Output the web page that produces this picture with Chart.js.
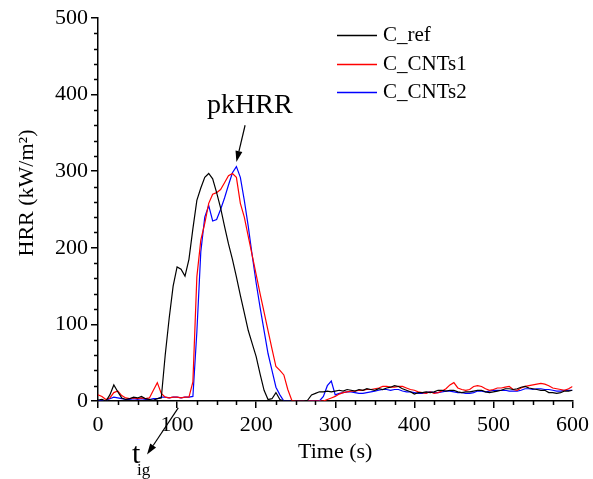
<!DOCTYPE html>
<html lang="en">
<head>
  <meta charset="UTF-8">
  <title>HRR curves</title>
  <script src="https://cdn.jsdelivr.net/npm/chart.js"></script>
  <style>
    html, body { margin: 0; padding: 0; background: #ffffff; }
    #wrap { width: 593px; height: 479px; }
  </style>
</head>
<body>
  <div id="wrap"><canvas id="hrrChart" width="593" height="479"></canvas></div>

  <script>
    // time (s), one sample every 5 s
    const times = [
      0, 5, 10, 15, 20, 25, 30, 35, 40, 45, 50, 55, 60,
      65, 70, 75, 80, 85, 90, 95, 100, 105, 110, 115, 120,
      125, 130, 135, 140, 145, 150, 155, 160, 165, 170, 175, 180,
      185, 190, 195, 200, 205, 210, 215, 220, 225, 230, 235, 240,
      245, 250, 255, 260, 265, 270, 275, 280, 285, 290, 295, 300,
      305, 310, 315, 320, 325, 330, 335, 340, 345, 350, 355, 360,
      365, 370, 375, 380, 385, 390, 395, 400, 405, 410, 415, 420,
      425, 430, 435, 440, 445, 450, 455, 460, 465, 470, 475, 480,
      485, 490, 495, 500, 505, 510, 515, 520, 525, 530, 535, 540,
      545, 550, 555, 560, 565, 570, 575, 580, 585, 590, 595, 600
    ];

    const cRef = [
      1, 2, 0, 8, 21, 12, 4, 2, 3, 5, 4, 6, 3,
      2, 1, 3, 4, 60, 108, 150, 175, 172, 163, 185, 225,
      262, 278, 292, 297, 290, 272, 252, 228, 205, 185, 162, 138,
      115, 92, 75, 58, 35, 14, 2, 3, 11, 2, 0, 0,
      0, 0, 0, 0, 1, 8, 10, 12, 12, 13, 12, 13,
      14, 13, 15, 14, 13, 15, 14, 16, 15, 14, 16, 15,
      17, 18, 20, 19, 16, 14, 12, 9, 11, 11, 12, 11,
      12, 14, 14, 13, 14, 14, 12, 11, 12, 12, 13, 14,
      14, 12, 11, 12, 13, 14, 16, 16, 15, 16, 18, 19,
      17, 16, 15, 14, 14, 11, 11, 10, 11, 13, 13, 14
    ];

    const cCnts1 = [
      8, 6, 2, 4, 11, 13, 7, 4, 3, 4, 3, 4, 3,
      4, 14, 24, 10, 5, 4, 5, 5, 4, 5, 5, 25,
      162, 210, 232, 258, 270, 272, 276, 285, 294, 297, 292, 258,
      240, 215, 190, 165, 140, 116, 92, 68, 45, 40, 34, 15,
      1, 0, 0, 0, 0, 0, 0, 0, 0, 2, 4, 6,
      9, 11, 12, 13, 13, 14, 14, 15, 15, 16, 17, 19,
      19, 18, 18, 19, 19, 17, 15, 14, 12, 11, 10, 12,
      10, 11, 13, 16, 21, 24, 17, 15, 14, 15, 19, 20,
      19, 16, 14, 15, 17, 17, 18, 19, 15, 14, 17, 19,
      20, 21, 22, 23, 22, 20, 17, 16, 15, 14, 16, 19
    ];

    const cCnts2 = [
      1, 0, 1, 3, 5, 4, 3, 2, 2, 3, 2, 3, 2,
      2, 3, 3, 5, 5, 4, 5, 5, 4, 5, 5, 6,
      90, 195, 240, 255, 235, 237, 250, 265, 282, 298, 306, 292,
      262, 228, 190, 154, 122, 92, 62, 40, 18, 8, 0, 0,
      0, 0, 0, 0, 0, 0, 0, 0, 6, 20, 26, 8,
      10, 11, 12, 12, 11, 10, 10, 11, 12, 13, 14, 15,
      15, 14, 15, 15, 13, 12, 12, 11, 10, 10, 11, 12,
      11, 11, 12, 13, 13, 12, 11, 11, 10, 10, 11, 13,
      13, 12, 13, 14, 14, 14, 14, 13, 13, 13, 14, 16,
      16, 15, 16, 16, 15, 15, 14, 13, 13, 14, 14, 14
    ];

    const seriesLabels = ['C_ref', 'C_CNTs1', 'C_CNTs2'];
    const seriesColors = ['#000000', '#ff0000', '#0000ff'];
    const seriesValues = [cRef, cCnts1, cCnts2];

    const FONT = '"Liberation Serif", "Times New Roman", serif';

    function toPoints(values) {
      return values.map((v, i) => ({ x: times[i], y: v }));
    }

    // minor ticks, legend, y title and the two arrows
    const extras = {
      id: 'extras',
      afterDraw(chart) {
        const ctx = chart.ctx;
        const xs = chart.scales.x;
        const ys = chart.scales.y;
        const area = chart.chartArea;
        ctx.save();
        ctx.strokeStyle = '#000';
        ctx.fillStyle = '#000';
        ctx.lineWidth = 1.5;

        // minor ticks
        ctx.beginPath();
        for (let v = 20; v < 500; v += 20) {
          if (v % 100 === 0) continue;
          const py = Math.round(ys.getPixelForValue(v)) + 0.5;
          ctx.moveTo(area.left, py);
          ctx.lineTo(area.left - 4, py);
        }
        for (let t = 25; t < 600; t += 25) {
          if (t % 100 === 0) continue;
          const px = Math.round(xs.getPixelForValue(t)) + 0.5;
          ctx.moveTo(px, area.bottom);
          ctx.lineTo(px, area.bottom + 4);
        }
        ctx.stroke();

        // legend
        ctx.font = '21px ' + FONT;
        ctx.textBaseline = 'middle';
        ctx.textAlign = 'left';
        seriesLabels.forEach((label, i) => {
          const y = Math.round(35 + i * 28.5) + 0.5;
          ctx.strokeStyle = seriesColors[i];
          ctx.lineWidth = 1.3;
          ctx.beginPath();
          ctx.moveTo(337, y);
          ctx.lineTo(377, y);
          ctx.stroke();
          ctx.fillStyle = '#000';
          ctx.fillText(label, 383, y);
        });

        // y axis title
        ctx.save();
        ctx.translate(27, 193);
        ctx.rotate(-Math.PI / 2);
        ctx.textAlign = 'center';
        ctx.font = '22px ' + FONT;
        ctx.fillText('HRR (kW/m²)', 0, 0);
        ctx.restore();

        // arrows
        function arrow(x1, y1, x2, y2) {
          const ang = Math.atan2(y2 - y1, x2 - x1);
          const len = 11, half = 3.5;
          const bx = x2 - len * Math.cos(ang), by = y2 - len * Math.sin(ang);
          ctx.strokeStyle = '#000';
          ctx.fillStyle = '#000';
          ctx.lineWidth = 1.2;
          ctx.beginPath();
          ctx.moveTo(x1, y1);
          ctx.lineTo(bx, by);
          ctx.stroke();
          ctx.beginPath();
          ctx.moveTo(x2, y2);
          ctx.lineTo(bx + half * Math.sin(ang), by - half * Math.cos(ang));
          ctx.lineTo(bx - half * Math.sin(ang), by + half * Math.cos(ang));
          ctx.closePath();
          ctx.fill();
        }

        arrow(xs.getPixelForValue(186), ys.getPixelForValue(360),
              xs.getPixelForValue(175), ys.getPixelForValue(312));
        ctx.font = '28px ' + FONT;
        ctx.textAlign = 'center';
        ctx.textBaseline = 'middle';
        ctx.fillText('pkHRR', xs.getPixelForValue(192), ys.getPixelForValue(386));

        arrow(xs.getPixelForValue(101.5), ys.getPixelForValue(-9),
              xs.getPixelForValue(62), ys.getPixelForValue(-70));
        ctx.textAlign = 'left';
        ctx.textBaseline = 'alphabetic';
        ctx.font = '30px ' + FONT;
        ctx.fillText('t', 132, 463);
        ctx.font = '17px ' + FONT;
        ctx.fillText('ig', 137, 475);

        ctx.restore();
      }
    };

    const ctx = document.getElementById('hrrChart').getContext('2d');

    new Chart(ctx, {
      type: 'line',
      data: {
        datasets: seriesLabels.map((label, i) => ({
          label: label,
          data: toPoints(seriesValues[i]),
          borderColor: seriesColors[i],
          borderWidth: 1.2,
          pointRadius: 0,
          tension: 0,
          fill: false
        }))
      },
      options: {
        responsive: false,
        animation: false,
        layout: { padding: { top: 18, right: 17, left: 0, bottom: 0 } },
        plugins: {
          legend: { display: false },
          tooltip: { enabled: false }
        },
        scales: {
          x: {
            type: 'linear',
            min: 0,
            max: 600,
            afterFit: s => { s.height = 78; },
            ticks: {
              stepSize: 100,
              color: '#000',
              padding: 4,
              maxRotation: 0,
              font: { family: FONT, size: 22 }
            },
            grid: {
              drawOnChartArea: false,
              color: '#000',
              lineWidth: 1.5,
              tickLength: 7
            },
            border: { color: '#000', width: 1.5 },
            title: {
              display: true,
              text: 'Time (s)',
              color: '#000',
              padding: { top: 0, bottom: 14 },
              font: { family: FONT, size: 22 }
            }
          },
          y: {
            min: 0,
            max: 500,
            afterFit: s => { s.width = 98; },
            ticks: {
              stepSize: 100,
              color: '#000',
              padding: 3,
              font: { family: FONT, size: 22 }
            },
            grid: {
              drawOnChartArea: false,
              color: '#000',
              lineWidth: 1.5,
              tickLength: 7
            },
            border: { color: '#000', width: 1.5 }
          }
        }
      },
      plugins: [extras]
    });
  </script>
</body>
</html>
